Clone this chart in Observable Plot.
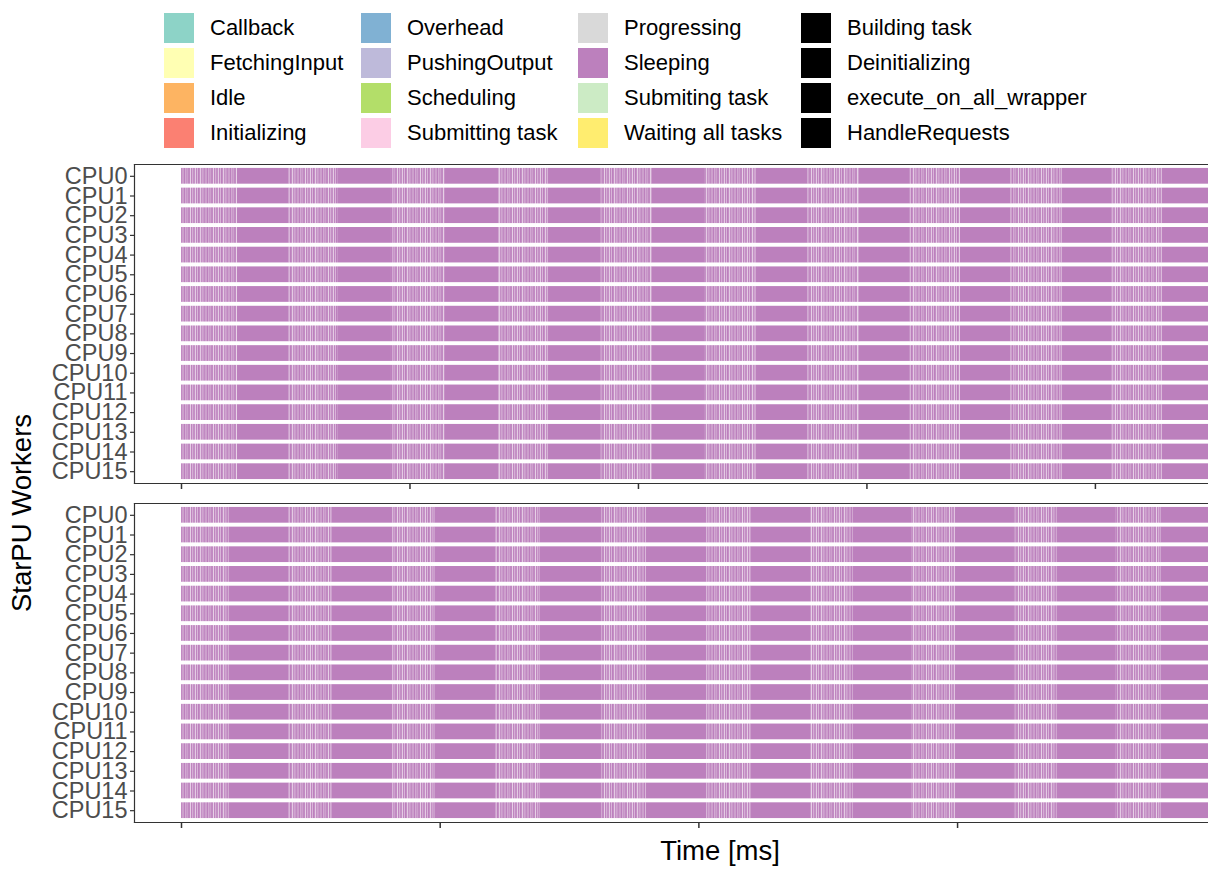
<!DOCTYPE html>
<html>
<head>
<meta charset="utf-8">
<script src="https://cdn.jsdelivr.net/npm/d3@7"></script>
<script src="https://cdn.jsdelivr.net/npm/@observablehq/plot@0.6"></script>
<style>
  html, body { margin: 0; padding: 0; background: #fff; overflow: hidden; }
  #page { position: relative; width: 1208px; height: 869px; font-family: "Liberation Sans", Arial, Helvetica, sans-serif; }
  #legend {
    position: absolute; left: 163px; top: 10px;
    display: grid; grid-auto-flow: column;
    grid-template-rows: repeat(4, 35px);
    grid-template-columns: 197px 217px 223px auto;
    font-size: 22px; color: #000;
  }
  .item { display: flex; align-items: center; }
  .sw { width: 32px; height: 32px; box-sizing: border-box; border: 1px solid #fff; margin-right: 15px; flex: none; }
  .panel { position: absolute; left: 0; }
  .panel svg { background: transparent; max-width: none; }
  #ylab { position: absolute; left: 22px; top: 513px; transform: translate(-50%, -50%) rotate(-90deg); font-size: 27.5px; white-space: nowrap; color: #000; }
  #xlab { position: absolute; left: 720px; top: 851px; transform: translate(-50%, -50%); font-size: 27.5px; white-space: nowrap; color: #000; }
</style>
</head>
<body>
<div id="page">
  <!-- fine-grained busy periods: short Sleeping slices interleaved with Progressing -->
  <svg width="0" height="0" style="position:absolute">
    <defs>
      <pattern id="busy" patternUnits="userSpaceOnUse" x="0" y="0" width="23" height="40">
        <rect x="0" y="0" width="23" height="40" fill="#d9b5d9"/>
        <rect x="0" y="0" width="1.2" height="40" fill="#bc80bd"/>
        <rect x="2.4" y="0" width="1" height="40" fill="#bc80bd"/>
        <rect x="4.2" y="0" width="1.6" height="40" fill="#bc80bd"/>
        <rect x="6.1" y="0" width="0.6" height="40" fill="#efe2ef"/>
        <rect x="7.1" y="0" width="1" height="40" fill="#bc80bd"/>
        <rect x="9.3" y="0" width="1.4" height="40" fill="#bc80bd"/>
        <rect x="11" y="0" width="0.5" height="40" fill="#efe2ef"/>
        <rect x="12" y="0" width="0.9" height="40" fill="#bc80bd"/>
        <rect x="14" y="0" width="1.7" height="40" fill="#bc80bd"/>
        <rect x="16.4" y="0" width="0.5" height="40" fill="#efe2ef"/>
        <rect x="17.3" y="0" width="1" height="40" fill="#bc80bd"/>
        <rect x="19.5" y="0" width="1.3" height="40" fill="#bc80bd"/>
        <rect x="21.6" y="0" width="0.8" height="40" fill="#bc80bd"/>
      </pattern>
    </defs>
  </svg>
  <div id="legend"></div>
  <div id="top" class="panel" style="top:150px"></div>
  <div id="bottom" class="panel" style="top:489px"></div>
  <div id="ylab">StarPU Workers</div>
  <div id="xlab">Time [ms]</div>
</div>
<script>
// Worker states and their colours
const states = ["Callback", "FetchingInput", "Idle", "Initializing",
                "Overhead", "PushingOutput", "Scheduling", "Submitting task",
                "Progressing", "Sleeping", "Submiting task", "Waiting all tasks",
                "Building task", "Deinitializing", "execute_on_all_wrapper", "HandleRequests"];
const stateColors = ["#8dd3c7", "#ffffb3", "#fdb462", "#fb8072",
                     "#80b1d3", "#bebada", "#b3de69", "#fccde5",
                     "#d9d9d9", "#bc80bd", "#ccebc5", "#ffed6f",
                     "#000000", "#000000", "#000000", "#000000"];

// Workers (one row each)
const workers = ["CPU0", "CPU1", "CPU2", "CPU3", "CPU4", "CPU5", "CPU6", "CPU7",
                 "CPU8", "CPU9", "CPU10", "CPU11", "CPU12", "CPU13", "CPU14", "CPU15"];

// First trace: busy windows (ms) between long sleeping stretches
const topBusyStart = [0, 4.70, 9.19, 13.89, 18.34, 22.93, 27.42, 31.90, 36.31, 40.74];
const topBusyEnd   = [2.44, 6.87, 11.55, 16.04, 20.60, 25.16, 29.65, 34.08, 38.54, 42.91];
const topTraceEnd  = 44.95;
const topTicks     = [0, 10, 20, 30, 40];

// Second trace
const bottomBusyStart = [0, 4.15, 8.17, 12.16, 16.24, 20.32, 24.32, 28.25, 32.20, 36.14];
const bottomBusyEnd   = [1.85, 5.81, 9.81, 13.87, 17.96, 22.02, 25.95, 29.90, 33.86, 37.86];
const bottomTraceEnd  = 39.70;
const bottomTicks     = [0, 10, 20, 30];

const sleepColor = stateColors[states.indexOf("Sleeping")];

// Legend: four columns, filled column by column
const legend = d3.select("#legend");
states.forEach((s, i) => {
  const it = legend.append("div").attr("class", "item");
  it.append("div").attr("class", "sw").style("background", stateColors[i]);
  it.append("span").text(s);
});

function intervals(starts, ends, traceEnd) {
  const rows = [];
  for (const w of workers) {
    starts.forEach((s, i) => {
      rows.push({worker: w, state: "Progressing", start: s, end: ends[i]});
      const next = i + 1 < starts.length ? starts[i + 1] : traceEnd;
      rows.push({worker: w, state: "Sleeping", start: ends[i], end: next});
    });
  }
  return rows;
}

function panel(rows, domain, ticks) {
  return Plot.plot({
    width: 1208,
    height: 343,
    marginLeft: 134,
    marginRight: 0,
    marginTop: 14,
    marginBottom: 10,
    style: {fontFamily: "'Liberation Sans', Arial, sans-serif", background: "transparent", overflow: "visible"},
    x: {domain, axis: null},
    y: {domain: workers, padding: 0.2, round: false, axis: null},
    marks: [
      Plot.barX(rows.filter(d => d.state === "Sleeping"),
        {y: "worker", x1: "start", x2: "end", fill: sleepColor}),
      Plot.barX(rows.filter(d => d.state === "Progressing"),
        {y: "worker", x1: "start", x2: "end", fill: "url(#busy)"}),
      Plot.frame({anchor: "top", stroke: "#333", strokeWidth: 1.2}),
      Plot.frame({anchor: "left", stroke: "#333", strokeWidth: 1.2}),
      Plot.frame({anchor: "bottom", stroke: "#333", strokeWidth: 1.2}),
      Plot.axisY({tickSize: 4, tickPadding: 3, fontSize: 23.5, fill: "#4d4d4d", stroke: "#333", strokeWidth: 1.2, label: null}),
      Plot.axisX({ticks, tickSize: 6, tickFormat: () => "", stroke: "#333", strokeWidth: 1.5, label: null})
    ]
  });
}

const xTop = [-2.057, topTraceEnd];
const xBottom = [-1.817, bottomTraceEnd];
document.getElementById("top").appendChild(panel(intervals(topBusyStart, topBusyEnd, topTraceEnd), xTop, topTicks));
document.getElementById("bottom").appendChild(panel(intervals(bottomBusyStart, bottomBusyEnd, bottomTraceEnd), xBottom, bottomTicks));
</script>
</body>
</html>
